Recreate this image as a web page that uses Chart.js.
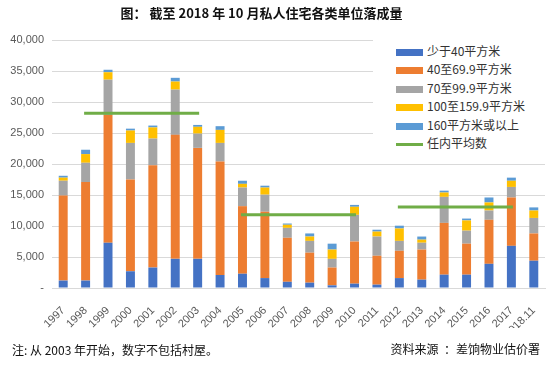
<!DOCTYPE html>
<html>
<head>
<meta charset="utf-8">
<script src="https://cdn.jsdelivr.net/npm/chart.js@4.4.1/dist/chart.umd.min.js"></script>
<style>
  html, body { margin: 0; padding: 0; background: #fff; }
  #wrap { position: relative; width: 557px; height: 365px; overflow: hidden;
          font-family: "Noto Sans CJK SC", "Noto Sans", sans-serif; color: #222; }
  #chart { position: absolute; left: 0; top: 0; }
  #title { position: absolute; left: 0; width: 523px; top: 3px; text-align: center;
           font-size: 13px; font-weight: bold; color: #111; }
  #legend { position: absolute; left: 373px; top: 36px; width: 184px; height: 118px;
            background: #fff; }
  .item { position: absolute; left: 23px; height: 18px; line-height: 18px;
          font-size: 12px; color: #333; white-space: nowrap; }
  .sw { display: inline-block; width: 27px; vertical-align: middle; margin-right: 4px; }
  #note { position: absolute; left: 12px; top: 341px; font-size: 12px; color: #111; }
  #source { position: absolute; right: 17px; top: 340px; font-size: 12px; color: #111; }
</style>
</head>
<body>
<div id="wrap">
  <canvas id="chart" width="557" height="365"></canvas>
  <div id="title">图： 截至 2018 年 10 月私人住宅各类单位落成量</div>
  <div id="legend"></div>
  <div id="note">注: 从 2003 年开始，数字不包括村屋。</div>
  <div id="source">资料来源 &nbsp;：差饷物业估价署</div>
</div>
<script>
// ─── Data ────────────────────────────────────────────────────────────────────
const YEARS = ["1997", "1998", "1999", "2000", "2001", "2002", "2003", "2004",
               "2005", "2006", "2007", "2008", "2009", "2010", "2011", "2012",
               "2013", "2014", "2015", "2016", "2017", "2018.11"];

const UNDER_40   = [1200, 1200, 7300, 2700, 3300, 4700, 4700, 2100, 2300, 1600, 1000,
                    860, 430, 700, 540, 1600, 1350, 2150, 2150, 3900, 6800, 4400];
const S40_69     = [13700, 15900, 20600, 14800, 16500, 20000, 17900, 18300, 10900, 10700, 7100,
                    4840, 2870, 6800, 4660, 4400, 4850, 8350, 5000, 7100, 7800, 4400];
const S70_99     = [2400, 3100, 5700, 5900, 4300, 7300, 2300, 3000, 3000, 2750, 1600,
                    1900, 1400, 4300, 3100, 1600, 1100, 4200, 2100, 1500, 1700, 2500];
const S100_159   = [500, 1400, 1200, 2000, 1800, 1300, 1100, 2100, 600, 1150, 500,
                    700, 1500, 1300, 800, 2000, 500, 700, 1650, 1300, 1000, 1200];
const OVER_160   = [300, 700, 400, 300, 300, 600, 300, 600, 500, 300, 200,
                    500, 950, 300, 300, 450, 500, 300, 300, 800, 500, 500];
// period averages (1998-2003, 2005-2010, 2012-2017); null = no line
const PERIOD_AVG = [null, 28200, 28200, 28200, 28200, 28200, 28200, null,
                    11800, 11800, 11800, 11800, 11800, 11800, null,
                    13050, 13050, 13050, 13050, 13050, 13050, null];

const Y_TICKS = [0, 5000, 10000, 15000, 20000, 25000, 30000, 35000, 40000];

// ─── Series ──────────────────────────────────────────────────────────────────
const SERIES = [
    { label: "少于40平方米",      data: UNDER_40, color: "#4472c4" },
    { label: "40至69.9平方米",    data: S40_69,   color: "#ed7d31" },
    { label: "70至99.9平方米",    data: S70_99,   color: "#a5a5a5" },
    { label: "100至159.9平方米",  data: S100_159, color: "#ffc000" },
    { label: "160平方米或以上",   data: OVER_160, color: "#5b9bd5" },
];
const AVG_LABEL = "任内平均数";
const AVG_COLOR = "#70ad47";

const TICK_FONT = { family: "'Liberation Sans', Arial, sans-serif", size: 11 };

const datasets = SERIES.map((s) => ({
    type: "bar",
    label: s.label,
    data: s.data,
    backgroundColor: s.color,
    stack: "units",
    order: 1,
    barPercentage: 0.4,
    categoryPercentage: 1.0,
}));
datasets.push({
    type: "line",
    label: AVG_LABEL,
    data: PERIOD_AVG,
    borderColor: AVG_COLOR,
    borderWidth: 3,
    borderCapStyle: "square",
    pointRadius: 0,
    spanGaps: false,
    stack: "avg",
    order: 0,
});

// eslint-disable-next-line no-undef
new Chart(document.getElementById("chart"), {
    data: { labels: YEARS, datasets },
    options: {
        responsive: false,
        animation: false,
        layout: { padding: { top: 40, right: 12, bottom: 37, left: 0 } },
        plugins: {
            legend: { display: false },
            tooltip: { enabled: false },
        },
        scales: {
            x: {
                stacked: true,
                grid: { display: false },
                border: { display: true, color: "#d9d9d9" },
                ticks: {
                    color: "#595959",
                    font: TICK_FONT,
                    minRotation: 45,
                    maxRotation: 45,
                    padding: 8,
                    autoSkip: false,
                },
                afterFit: (scale) => { scale.height = 40; },
            },
            y: {
                stacked: true,
                min: 0,
                max: 40000,
                afterBuildTicks: (scale) => {
                    scale.ticks = Y_TICKS.map((v) => ({ value: v }));
                },
                grid: { color: "#d9d9d9", drawTicks: false },
                border: { display: false },
                ticks: {
                    color: "#595959",
                    font: TICK_FONT,
                    padding: 8,
                    callback: (v) => (v === 0 ? "-" : v.toLocaleString("en-US")),
                },
                afterFit: (scale) => { scale.width = 52; },
            },
        },
    },
});

// ─── HTML legend overlaying the plot, like the original ──────────────────────
const legendEl = document.getElementById("legend");
const legendItems = SERIES.map((s) => ({ label: s.label, color: s.color, line: false }))
    .concat([{ label: AVG_LABEL, color: AVG_COLOR, line: true }]);
legendItems.forEach((it, i) => {
    const row = document.createElement("div");
    row.className = "item";
    row.style.top = (5.5 + i * 18.5) + "px";
    const sw = document.createElement("span");
    sw.className = "sw";
    sw.style.height = it.line ? "3px" : "7px";
    sw.style.background = it.color;
    row.appendChild(sw);
    row.appendChild(document.createTextNode(it.label));
    legendEl.appendChild(row);
});
</script>
</body>
</html>
